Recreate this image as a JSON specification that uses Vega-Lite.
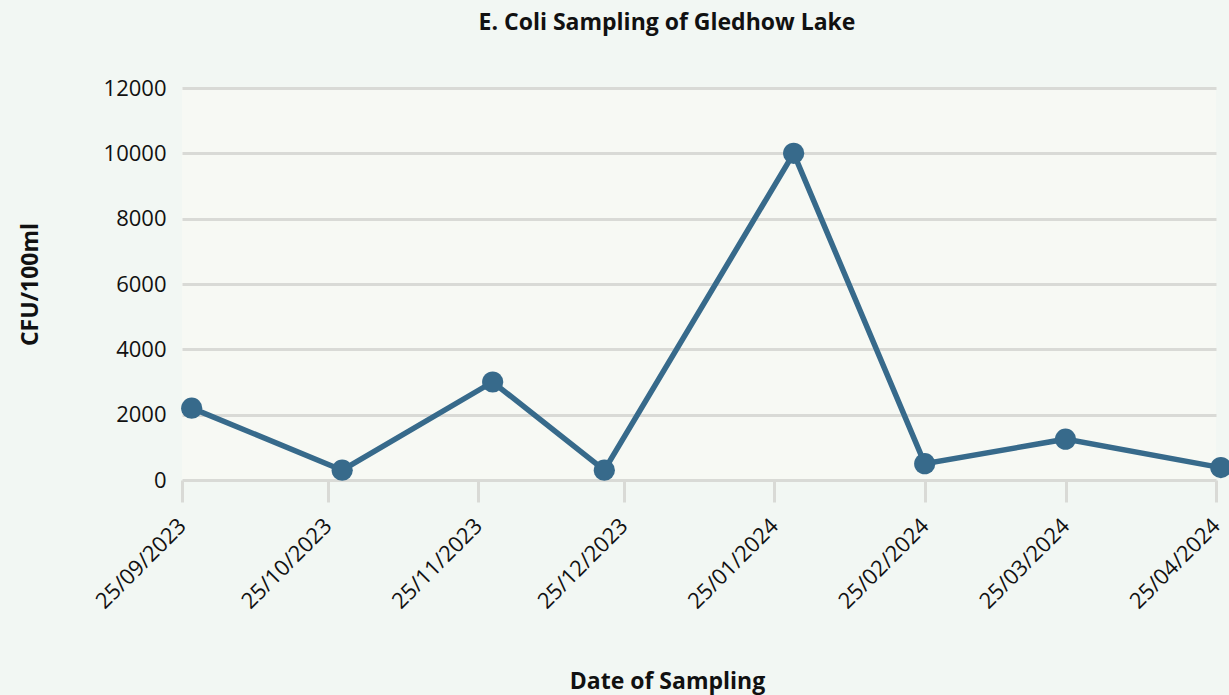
{
  "$schema": "https://vega.github.io/schema/vega-lite/v6.json",
  "width": 1034,
  "height": 392,
  "autosize": "none",
  "padding": {"left": 182, "top": 88, "right": 13, "bottom": 215},
  "background": "#f2f7f3",
  "title": {
    "text": "E. Coli Sampling of Gledhow Lake",
    "font": "Open Sans",
    "fontSize": 23,
    "fontWeight": "bold",
    "color": "#111111",
    "anchor": "middle",
    "dx": -32,
    "offset": 42
  },
  "config": {
    "view": {"fill": "#f7f9f4", "stroke": null},
    "font": "Open Sans"
  },
  "data": {
    "values": [
      {"date": "2023-09-27", "cfu": 2200},
      {"date": "2023-10-28", "cfu": 300},
      {"date": "2023-11-28", "cfu": 3000},
      {"date": "2023-12-21", "cfu": 300},
      {"date": "2024-01-29", "cfu": 10000},
      {"date": "2024-02-25", "cfu": 500},
      {"date": "2024-03-25", "cfu": 1250},
      {"date": "2024-04-26", "cfu": 380}
    ]
  },
  "encoding": {
    "x": {
      "field": "date",
      "type": "temporal",
      "scale": {
        "type": "utc",
        "domain": [
          {"year": 2023, "month": 9, "date": 25, "utc": true},
          {"year": 2024, "month": 4, "date": 25, "utc": true}
        ]
      },
      "axis": {
        "values": [
          {"year": 2023, "month": 9, "date": 25, "utc": true},
          {"year": 2023, "month": 10, "date": 25, "utc": true},
          {"year": 2023, "month": 11, "date": 25, "utc": true},
          {"year": 2023, "month": 12, "date": 25, "utc": true},
          {"year": 2024, "month": 1, "date": 25, "utc": true},
          {"year": 2024, "month": 2, "date": 25, "utc": true},
          {"year": 2024, "month": 3, "date": 25, "utc": true},
          {"year": 2024, "month": 4, "date": 25, "utc": true}
        ],
        "format": "%d/%m/%Y",
        "labelAngle": -45,
        "labelFontSize": 22,
        "labelColor": "#111111",
        "labelPadding": 20,
        "labelAlign": "right",
        "labelBaseline": "middle",
        "labelOverlap": false,
        "labelBound": false,
        "labelFlush": false,
        "domain": false,
        "grid": false,
        "ticks": true,
        "tickSize": 22,
        "tickWidth": 3,
        "tickColor": "#d9dad6",
        "title": "Date of Sampling",
        "titleFontSize": 23,
        "titleFontWeight": "bold",
        "titleColor": "#111111",
        "titleX": 485,
        "titleY": 208,
        "titleBaseline": "alphabetic",
        "titleAnchor": null
      }
    },
    "y": {
      "field": "cfu",
      "type": "quantitative",
      "scale": {"domain": [0, 12000], "nice": false},
      "axis": {
        "values": [0, 2000, 4000, 6000, 8000, 10000, 12000],
        "format": "d",
        "labelFontSize": 22,
        "labelColor": "#111111",
        "labelPadding": 16,
        "domain": false,
        "ticks": false,
        "grid": true,
        "gridColor": "#d9dad6",
        "gridWidth": 3,
        "gridOpacity": 1,
        "title": "CFU/100ml",
        "titleFontSize": 23,
        "titleFontWeight": "bold",
        "titleColor": "#111111",
        "titleAngle": -90,
        "titleX": -152,
        "titleY": 196,
        "titleBaseline": "middle",
        "titleAlign": "center"
      }
    }
  },
  "layer": [
    {"mark": {"type": "line", "color": "#376a8b", "strokeWidth": 5.5}},
    {"mark": {"type": "point", "filled": true, "opacity": 1, "color": "#376a8b", "size": 450}}
  ]
}
